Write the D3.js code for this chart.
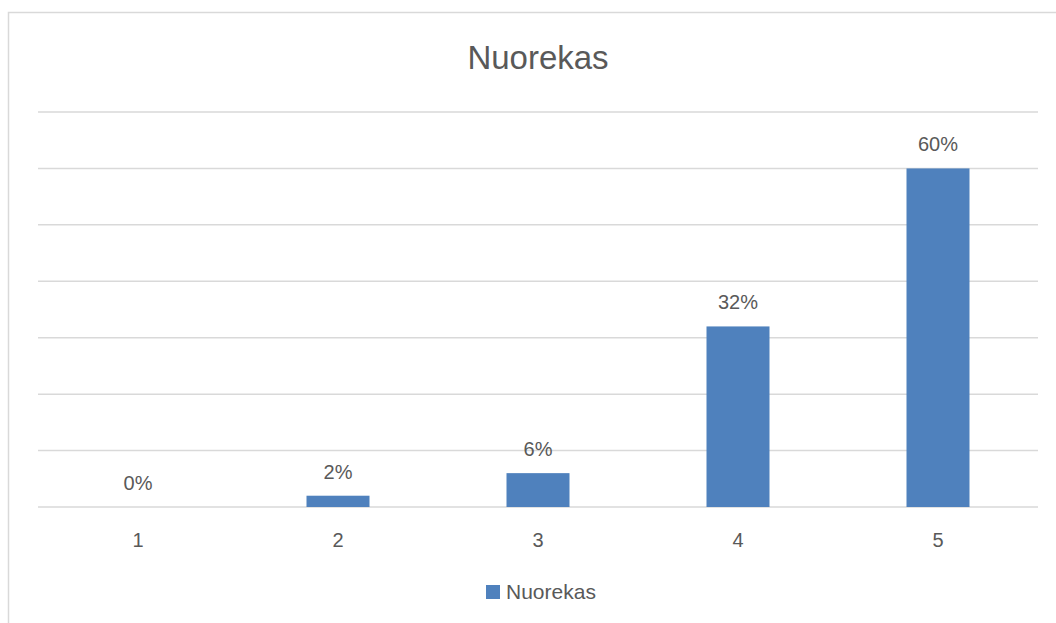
<!DOCTYPE html>
<html><head><meta charset="utf-8">
<script src="https://cdn.jsdelivr.net/npm/d3@7"></script>
<style>html,body{margin:0;padding:0;background:#fff;overflow:hidden}</style>
</head><body>
<svg id="chart" width="1056" height="623"></svg>
<script>
const categories = ["1", "2", "3", "4", "5"];
const values = [0, 2, 6, 32, 60];
const yTicks = [0, 10, 20, 30, 40, 50, 60, 70];
const seriesName = "Nuorekas";
const title = "Nuorekas";

const svg = d3.select("#chart");
const font = "'Liberation Sans', Arial, sans-serif";
const textColor = "#595959";
const gridColor = "#D9D9D9";
const barColor = "#4F81BD";

// chart border (top and left visible)
svg.append("path")
  .attr("d", "M8.5,623 L8.5,12.5 L1056,12.5")
  .attr("fill", "none").attr("stroke", "#D9D9D9").attr("stroke-width", 1.5);

const plotLeft = 38, plotRight = 1038, plotTop = 112, plotBottom = 507;
const x = d3.scaleBand().domain(categories).range([plotLeft, plotRight]).paddingInner(0.685).paddingOuter(0.3425);
const y = d3.scaleLinear().domain([0, 70]).range([plotBottom, plotTop]);

// gridlines
svg.append("g").selectAll("line").data(yTicks).join("line")
  .attr("x1", plotLeft).attr("x2", plotRight)
  .attr("y1", d => y(d)).attr("y2", d => y(d))
  .attr("stroke", gridColor).attr("stroke-width", 1.5);

// x axis labels
const xAxis = d3.axisBottom(x).tickSize(0).tickPadding(0);
const gx = svg.append("g").attr("transform", `translate(0,${plotBottom})`).call(xAxis);
gx.select(".domain").remove();
gx.selectAll("text")
  .attr("font-family", font).attr("font-size", 20).attr("fill", textColor)
  .attr("dy", null).attr("y", 40);

// bars
svg.append("g").selectAll("rect").data(values).join("rect")
  .attr("x", (d, i) => x(categories[i]))
  .attr("width", x.bandwidth())
  .attr("y", d => y(d))
  .attr("height", d => y(0) - y(d))
  .attr("fill", barColor);

// data labels
svg.append("g").selectAll("text").data(values).join("text")
  .attr("x", (d, i) => x(categories[i]) + x.bandwidth() / 2)
  .attr("y", d => y(d) - 17)
  .attr("text-anchor", "middle")
  .attr("font-family", font).attr("font-size", 20).attr("fill", textColor)
  .text(d => d + "%");

// title
svg.append("text")
  .attr("x", 538).attr("y", 69)
  .attr("text-anchor", "middle")
  .attr("font-family", font).attr("font-size", 33).attr("fill", textColor)
  .text(title);

// legend
const lg = svg.append("g");
lg.append("rect").attr("x", 486).attr("y", 585).attr("width", 14).attr("height", 14).attr("fill", barColor);
lg.append("text").attr("x", 506).attr("y", 599)
  .attr("font-family", font).attr("font-size", 21).attr("fill", textColor)
  .text(seriesName);
</script>
</body></html>
